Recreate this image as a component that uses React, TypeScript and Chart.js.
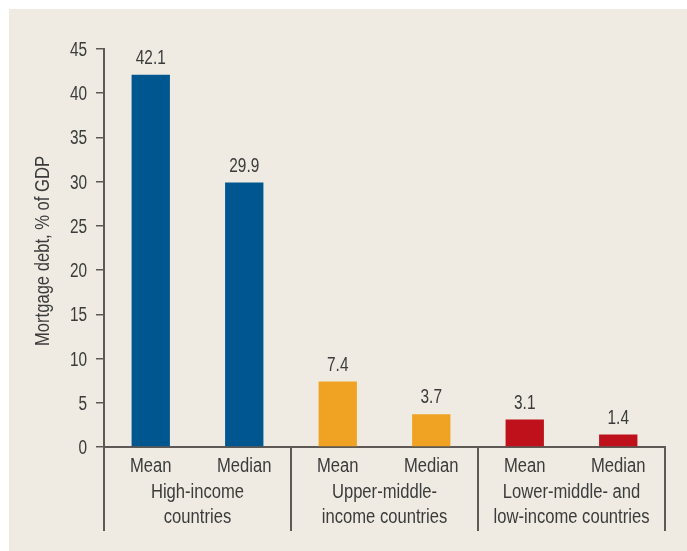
import React, { useEffect, useRef } from "react";
import { Chart, registerables } from "chart.js";

Chart.register(...registerables);

// Mortgage debt by income group (% of GDP)
const categories = ["Mean", "Median", "Mean", "Median", "Mean", "Median"];
const values = [42.1, 29.9, 7.4, 3.7, 3.1, 1.4];
const groupLabels = [
  ["High-income", "countries"],
  ["Upper-middle-", "income countries"],
  ["Lower-middle- and", "low-income countries"],
];
const barColors = ["#00578f", "#00578f", "#f0a323", "#f0a323", "#be111b", "#be111b"];
const yAxisTitle = "Mortgage debt, % of GDP";

const FONT = "'Liberation Sans', Arial, sans-serif";
const TEXT = "#3b3b3b";
const AXIS = "#5e5955";
const BG = "#efebe2";

// condensed look: squeeze text horizontally
const WORD = { size: 20, sx: 0.83 };
const NUM = { size: 20.5, sx: 0.75 };

function drawText(
  ctx: CanvasRenderingContext2D,
  text: string,
  x: number,
  y: number,
  align: CanvasTextAlign,
  style: { size: number; sx: number },
  rotate = 0
) {
  ctx.save();
  ctx.translate(x, y);
  if (rotate) ctx.rotate(rotate);
  ctx.scale(style.sx, 1);
  ctx.font = `${style.size}px ${FONT}`;
  ctx.fillStyle = TEXT;
  ctx.textAlign = align;
  ctx.textBaseline = "alphabetic";
  ctx.fillText(text, 0, 0);
  ctx.restore();
}

const annotate = {
  id: "annotate",
  afterDatasetsDraw(chart: any) {
    const ctx = chart.ctx;
    const meta = chart.getDatasetMeta(0);
    meta.data.forEach((bar: any, i: number) => {
      drawText(ctx, values[i].toFixed(1), bar.x, bar.y - 11, "center", NUM);
    });
  },
  afterDraw(chart: any) {
    const ctx = chart.ctx;
    const x = chart.scales.x;
    const y = chart.scales.y;
    const area = chart.chartArea;

    // y tick labels
    y.ticks.forEach((t: any) => {
      drawText(ctx, String(t.value), area.left - 17, y.getPixelForValue(t.value) + 7, "right", NUM);
    });

    // y axis title
    drawText(ctx, yAxisTitle, 40, (area.top + area.bottom) / 2 + 3, "center", WORD, -Math.PI / 2);

    // category labels
    categories.forEach((c, i) => {
      drawText(ctx, c, x.getPixelForValue(i), area.bottom + 25, "center", WORD);
    });

    // group separators and labels
    const bounds = [area.left];
    for (let g = 1; g < groupLabels.length; g++) {
      bounds.push((x.getPixelForValue(g * 2 - 1) + x.getPixelForValue(g * 2)) / 2);
    }
    bounds.push(area.right);
    ctx.save();
    ctx.strokeStyle = AXIS;
    ctx.lineWidth = 2;
    bounds.forEach((bx) => {
      const px = Math.round(bx);
      ctx.beginPath();
      ctx.moveTo(px, area.bottom);
      ctx.lineTo(px, area.bottom + 84);
      ctx.stroke();
    });
    ctx.restore();
    groupLabels.forEach((lines, g) => {
      const cx = (bounds[g] + bounds[g + 1]) / 2;
      lines.forEach((line, k) => {
        drawText(ctx, line, cx, area.bottom + 51 + k * 25, "center", WORD);
      });
    });
  },
};

export default function App() {
  const ref = useRef<HTMLCanvasElement | null>(null);

  useEffect(() => {
    if (!ref.current) return;
    const chart = new Chart(ref.current, {
      type: "bar",
      data: {
        labels: categories,
        datasets: [
          {
            data: values,
            backgroundColor: barColors,
            barPercentage: 0.41,
            categoryPercentage: 1,
          },
        ],
      },
      options: {
        animation: false,
        responsive: true,
        maintainAspectRatio: false,
        layout: { padding: { top: 40, right: 22, bottom: 0, left: 0 } },
        plugins: { legend: { display: false }, tooltip: { enabled: false } },
        scales: {
          x: {
            grid: { display: false, drawTicks: false },
            border: { display: true, color: AXIS, width: 2 },
            ticks: { display: false },
            afterFit: (s: any) => {
              s.height = 104;
            },
          },
          y: {
            min: 0,
            max: 45,
            ticks: { stepSize: 5, display: false },
            grid: { drawOnChartArea: false, drawTicks: true, tickLength: 8, color: AXIS, lineWidth: 1.5 },
            border: { display: true, color: AXIS, width: 2 },
            afterFit: (s: any) => {
              s.width = 95;
            },
          },
        },
      },
      plugins: [annotate],
    });
    return () => chart.destroy();
  }, []);

  return (
    <div
      style={{
        position: "absolute",
        left: 9,
        top: 9,
        width: 678,
        height: 542,
        background: BG,
      }}
    >
      <canvas ref={ref} />
    </div>
  );
}
